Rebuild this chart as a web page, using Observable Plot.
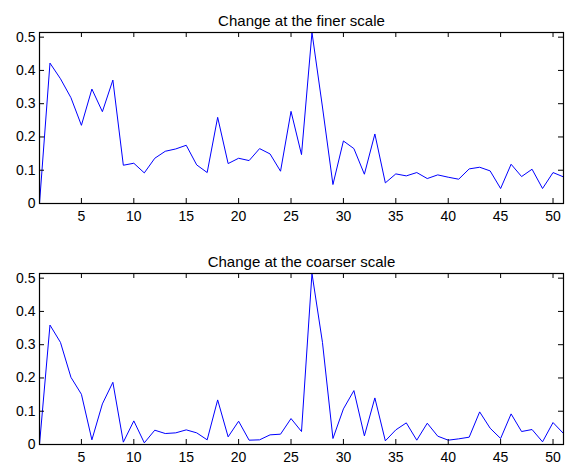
<!DOCTYPE html>
<html>
<head>
<meta charset="utf-8">
<script src="https://cdn.jsdelivr.net/npm/d3@7"></script>
<script src="https://cdn.jsdelivr.net/npm/@observablehq/plot@0.6"></script>
<style>
  html, body { margin: 0; padding: 0; background: #fff; }
  svg { display: block; }
</style>
</head>
<body>
<div id="chart"></div>
<script>
const titles = ["Change at the finer scale", "Change at the coarser scale"];
const xTicks = [5, 10, 15, 20, 25, 30, 35, 40, 45, 50];
const yTicks = [0, 0.1, 0.2, 0.3, 0.4, 0.5];
const finer = [0, 0.422, 0.375, 0.318, 0.235, 0.344, 0.276, 0.371, 0.115, 0.121,
  0.092, 0.136, 0.157, 0.164, 0.175, 0.116, 0.093, 0.259, 0.12, 0.136,
  0.129, 0.165, 0.149, 0.097, 0.277, 0.147, 0.514, 0.29, 0.057, 0.188,
  0.165, 0.088, 0.209, 0.062, 0.089, 0.083, 0.093, 0.075, 0.086, 0.079,
  0.073, 0.104, 0.109, 0.098, 0.045, 0.118, 0.081, 0.103, 0.045, 0.093, 0.080];
const coarser = [0, 0.359, 0.307, 0.202, 0.151, 0.014, 0.122, 0.187, 0.007, 0.071,
  0.005, 0.043, 0.033, 0.035, 0.044, 0.035, 0.014, 0.134, 0.023, 0.07,
  0.013, 0.014, 0.029, 0.031, 0.078, 0.039, 0.514, 0.307, 0.018, 0.107,
  0.162, 0.026, 0.14, 0.011, 0.044, 0.065, 0.013, 0.064, 0.025, 0.013,
  0.017, 0.022, 0.098, 0.049, 0.018, 0.092, 0.039, 0.045, 0.008, 0.066, 0.033];

const font = "Liberation Sans, Arial, Helvetica, sans-serif";
const W = 566, H = 233, ML = 39, MR = 3, TL = 5;

function panel(values, title, mTop, mBottom) {
  const data = values.map((v, i) => ({x: i + 1, y: v}));
  const yMax = d3.max(values);
  const fh = H - mTop - mBottom, fw = W - ML - MR;
  return Plot.plot({
    width: W,
    height: H,
    marginLeft: ML,
    marginRight: MR,
    marginTop: mTop,
    marginBottom: mBottom,
    style: {fontFamily: font, fontSize: "14px", color: "#000", background: "#fff"},
    x: {domain: [1, values.length], label: null},
    y: {domain: [0, yMax], label: null},
    marks: [
      Plot.line(data, {x: "x", y: "y", stroke: "#0000ff", strokeWidth: 1}),
      // inward ticks on all four sides
      Plot.ruleX(xTicks, {x: d => d, insetTop: fh - TL, stroke: "#000"}),
      Plot.ruleX(xTicks, {x: d => d, insetBottom: fh - TL, stroke: "#000"}),
      Plot.ruleY(yTicks, {y: d => d, insetRight: fw - TL, stroke: "#000"}),
      Plot.ruleY(yTicks, {y: d => d, insetLeft: fw - TL, stroke: "#000"}),
      Plot.frame({stroke: "#000", strokeWidth: 1.2}),
      Plot.axisX({ticks: xTicks, anchor: "bottom", label: null, tickSize: 0, tickPadding: 8, fontSize: 14}),
      Plot.axisY({ticks: yTicks, anchor: "left", label: null, tickSize: 0, tickPadding: 4, fontSize: 14,
        tickFormat: d => String(+d.toFixed(1))}),
      Plot.text([title], {frameAnchor: "top", dy: -17, fontSize: 15, fill: "#000"})
    ]
  });
}

const root = document.getElementById("chart");
root.appendChild(panel(finer, titles[0], 32, 30));
root.appendChild(panel(coarser, titles[1], 40, 22));
</script>
</body>
</html>
